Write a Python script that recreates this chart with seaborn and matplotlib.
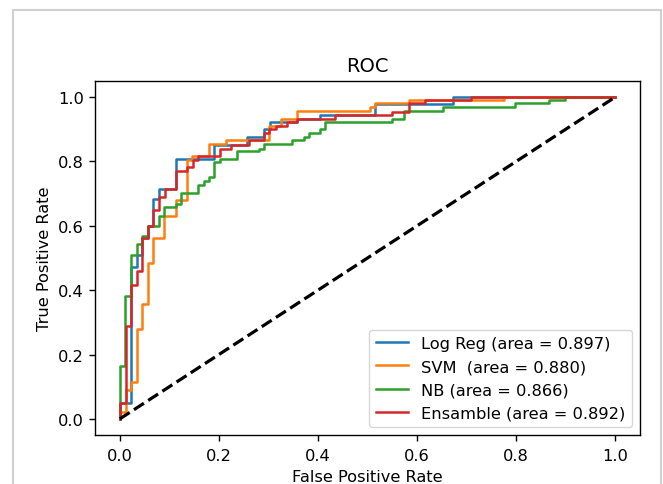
import matplotlib
matplotlib.use("Agg")
import matplotlib.pyplot as plt
from matplotlib.patches import Rectangle
import seaborn as sns

# ROC corner points (false positive rate, true positive rate) per model
fpr_logreg = [0, 0, 0.0235, 0.0235, 0.034, 0.034, 0.0457, 0.0457, 0.057, 0.057, 0.068, 0.068,
              0.079, 0.079, 0.113, 0.113, 0.191, 0.191, 0.257, 0.257, 0.291, 0.291, 0.303, 0.303,
              0.358, 0.358, 0.404, 0.404, 0.516, 0.516, 0.672, 0.672, 1.0]
tpr_logreg = [0, 0.05, 0.05, 0.472, 0.472, 0.508, 0.508, 0.562, 0.562, 0.599, 0.599, 0.682,
              0.682, 0.715, 0.715, 0.808, 0.808, 0.852, 0.852, 0.876, 0.876, 0.900, 0.900, 0.923,
              0.923, 0.931, 0.931, 0.943, 0.943, 0.979, 0.979, 1.0, 1.0]

fpr_svm = [0, 0, 0.012, 0.012, 0.0235, 0.0235, 0.034, 0.034, 0.0457, 0.0457, 0.057, 0.057,
           0.068, 0.068, 0.089, 0.089, 0.113, 0.113, 0.135, 0.135, 0.145, 0.145, 0.180, 0.180,
           0.214, 0.214, 0.302, 0.302, 0.325, 0.325, 0.358, 0.358, 0.506, 0.506, 0.516, 0.516,
           0.583, 0.583, 0.775, 0.775, 1.0]
tpr_svm = [0, 0.023, 0.023, 0.091, 0.091, 0.116, 0.116, 0.278, 0.278, 0.358, 0.358, 0.485,
           0.485, 0.562, 0.562, 0.632, 0.632, 0.679, 0.679, 0.806, 0.806, 0.817, 0.817, 0.853,
           0.853, 0.866, 0.866, 0.911, 0.911, 0.933, 0.933, 0.956, 0.956, 0.969, 0.969, 0.981,
           0.981, 0.990, 0.990, 1.0, 1.0]

fpr_nb = [0, 0, 0.0115, 0.0115, 0.0235, 0.0235, 0.034, 0.034, 0.0457, 0.0457, 0.057, 0.057,
          0.079, 0.079, 0.089, 0.089, 0.113, 0.113, 0.124, 0.124, 0.157, 0.157, 0.169, 0.169,
          0.180, 0.180, 0.191, 0.191, 0.202, 0.202, 0.236, 0.236, 0.281, 0.281, 0.292, 0.292,
          0.348, 0.348, 0.372, 0.372, 0.382, 0.382, 0.404, 0.404, 0.415, 0.415, 0.550, 0.550,
          0.573, 0.573, 0.652, 0.652, 0.798, 0.798, 0.866, 0.866, 0.899, 0.899, 1.0]
tpr_nb = [0, 0.164, 0.164, 0.382, 0.382, 0.508, 0.508, 0.542, 0.542, 0.568, 0.568, 0.599,
          0.599, 0.632, 0.632, 0.658, 0.658, 0.669, 0.669, 0.702, 0.702, 0.728, 0.728, 0.738,
          0.738, 0.751, 0.751, 0.798, 0.798, 0.809, 0.809, 0.831, 0.831, 0.840, 0.840, 0.853,
          0.853, 0.866, 0.866, 0.876, 0.876, 0.889, 0.889, 0.900, 0.900, 0.923, 0.923, 0.933,
          0.933, 0.956, 0.956, 0.968, 0.968, 0.981, 0.981, 0.990, 0.990, 1.0, 1.0]

fpr_ens = [0, 0, 0.012, 0.012, 0.0235, 0.0235, 0.034, 0.034, 0.0457, 0.0457, 0.057, 0.057,
           0.068, 0.068, 0.079, 0.079, 0.091, 0.091, 0.113, 0.113, 0.135, 0.135, 0.147, 0.147,
           0.157, 0.157, 0.202, 0.202, 0.225, 0.225, 0.261, 0.261, 0.292, 0.292, 0.301, 0.301,
           0.315, 0.315, 0.338, 0.338, 0.358, 0.358, 0.435, 0.435, 0.550, 0.550, 0.583, 0.583,
           0.617, 0.617, 0.708, 0.708, 1.0]
tpr_ens = [0, 0.05, 0.05, 0.288, 0.288, 0.415, 0.415, 0.461, 0.461, 0.562, 0.562, 0.599,
           0.599, 0.648, 0.648, 0.689, 0.689, 0.713, 0.713, 0.770, 0.770, 0.784, 0.784, 0.806,
           0.806, 0.817, 0.817, 0.840, 0.840, 0.852, 0.852, 0.866, 0.866, 0.889, 0.889, 0.902,
           0.902, 0.911, 0.911, 0.923, 0.923, 0.932, 0.932, 0.943, 0.943, 0.954, 0.954, 0.981,
           0.981, 0.990, 0.990, 1.0, 1.0]

model_names = ["Log Reg", "SVM ", "NB", "Ensamble"]
model_auc = [0.897, 0.880, 0.866, 0.892]
model_colors = ["#1f77b4", "#ff7f0e", "#2ca02c", "#d62728"]

W, H = 663, 485
fig = plt.figure(figsize=(W / 100, H / 100), dpi=100)
fig.patch.set_facecolor("white")
ax = fig.add_axes([95 / W, (H - 436) / H, (640 - 95) / W, (436 - 82) / H])

curves = [(fpr_logreg, tpr_logreg), (fpr_svm, tpr_svm), (fpr_nb, tpr_nb), (fpr_ens, tpr_ens)]
for (fpr, tpr), name, auc, col in zip(curves, model_names, model_auc, model_colors):
    sns.lineplot(x=fpr, y=tpr, sort=False, estimator=None, color=col, linewidth=1.8,
                 label=f"{name} (area = {auc:.3f})", ax=ax)

# chance diagonal
ax.plot([0, 1], [0, 1], "k--", linewidth=2.3)

ax.set_xlim(-0.05, 1.05)
ax.set_ylim(-0.05, 1.05)
ax.set_xticks([0.0, 0.2, 0.4, 0.6, 0.8, 1.0])
ax.set_yticks([0.0, 0.2, 0.4, 0.6, 0.8, 1.0])
ax.tick_params(labelsize=11.7, width=1.0, length=4.2, pad=3.8)
ax.tick_params(axis="x", pad=5.0)
for sp in ax.spines.values():
    sp.set_linewidth(1.0)
ax.set_xlabel("False Positive Rate", fontsize=11.7, labelpad=4.2)
ax.set_ylabel("True Positive Rate", fontsize=11.7, labelpad=4.5)
ax.set_title("ROC", fontsize=14, pad=7.0)
ax.legend(loc="lower right", fontsize=11.7)

# light grey page frame around the figure
fig.add_artist(Rectangle((13 / W, -0.1), (661 - 13) / W, (H - 11) / H + 0.1,
                         transform=fig.transFigure, fill=False, edgecolor="#d0d0d0",
                         linewidth=1.5, clip_on=False))

fig.savefig("out.png", dpi=100)
